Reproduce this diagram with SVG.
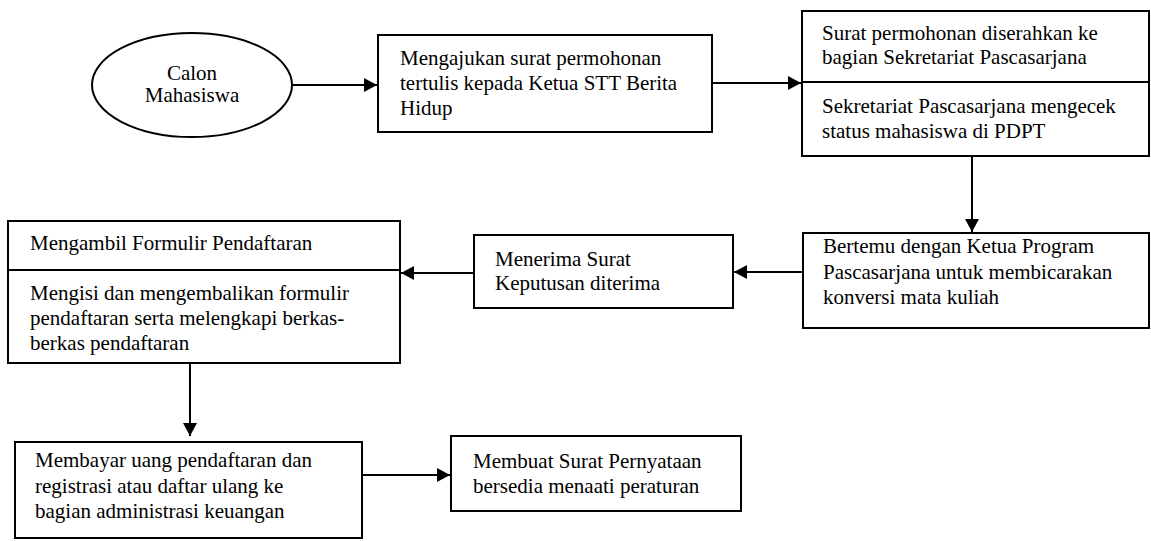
<svg xmlns="http://www.w3.org/2000/svg" width="1151" height="541" viewBox="0 0 1151 541">
<style>
.n{fill:#fff;stroke:#000;stroke-width:2}
.t{font-family:"Liberation Serif","Times New Roman",serif;font-size:21px;fill:#000}
.c{stroke:#000;stroke-width:2;fill:none;marker-end:url(#ah)}
</style>
<defs>
<marker id="ah" markerUnits="userSpaceOnUse" markerWidth="15" markerHeight="15" refX="13" refY="7" orient="auto">
<path d="M0,0 L13,7 L0,14 Z" fill="#000"/>
</marker>
</defs>
<rect width="1151" height="541" fill="#fff"/>
<g id="connectors">
<line class="c" x1="292" y1="85" x2="377" y2="85"/>
<line class="c" x1="712" y1="83" x2="801" y2="83"/>
<line class="c" x1="972" y1="156" x2="972" y2="232"/>
<line class="c" x1="802" y1="272" x2="734" y2="272"/>
<line class="c" x1="474" y1="273" x2="401" y2="273"/>
<line class="c" x1="190" y1="363" x2="190" y2="436"/>
<line class="c" x1="362" y1="475" x2="450" y2="475"/>
</g>
<g id="calon">
<ellipse class="n" cx="192" cy="85" rx="100" ry="52"/>
<text class="t" x="192" y="80" text-anchor="middle">Calon</text>
<text class="t" x="192" y="102" text-anchor="middle">Mahasiswa</text>
</g>
<g id="mengajukan">
<rect class="n" x="378" y="35" width="334" height="97"/>
<text class="t" x="400" y="65">Mengajukan surat permohonan</text>
<text class="t" x="400" y="90">tertulis kepada Ketua STT Berita</text>
<text class="t" x="400" y="115">Hidup</text>
</g>
<g id="sekretariat">
<rect class="n" x="802" y="11" width="347" height="145"/>
<line x1="802" y1="82" x2="1149" y2="82" stroke="#000" stroke-width="2"/>
<text class="t" x="822" y="40">Surat permohonan diserahkan ke</text>
<text class="t" x="822" y="64">bagian Sekretariat Pascasarjana</text>
<text class="t" x="822" y="113">Sekretariat Pascasarjana mengecek</text>
<text class="t" x="822" y="138">status mahasiswa di PDPT</text>
</g>
<g id="bertemu">
<rect class="n" x="803" y="233" width="346" height="95"/>
<text class="t" x="823" y="253">Bertemu dengan Ketua Program</text>
<text class="t" x="823" y="279">Pascasarjana untuk membicarakan</text>
<text class="t" x="823" y="304">konversi mata kuliah</text>
</g>
<g id="menerima">
<rect class="n" x="474" y="235" width="259" height="73"/>
<text class="t" x="495" y="266">Menerima Surat</text>
<text class="t" x="495" y="290">Keputusan diterima</text>
</g>
<g id="formulir">
<rect class="n" x="8" y="221" width="392" height="142"/>
<line x1="8" y1="270" x2="400" y2="270" stroke="#000" stroke-width="2"/>
<text class="t" x="30" y="250">Mengambil Formulir Pendaftaran</text>
<text class="t" x="30" y="300">Mengisi dan mengembalikan formulir</text>
<text class="t" x="30" y="325">pendaftaran serta melengkapi berkas-</text>
<text class="t" x="30" y="350">berkas pendaftaran</text>
</g>
<g id="membayar">
<rect class="n" x="15" y="442" width="347" height="96"/>
<text class="t" x="35" y="467">Membayar uang pendaftaran dan</text>
<text class="t" x="35" y="493">registrasi atau daftar ulang ke</text>
<text class="t" x="35" y="518">bagian administrasi keuangan</text>
</g>
<g id="membuat">
<rect class="n" x="451" y="436" width="290" height="75"/>
<text class="t" x="473" y="468">Membuat Surat Pernyataan</text>
<text class="t" x="473" y="493">bersedia menaati peraturan</text>
</g>
</svg>
